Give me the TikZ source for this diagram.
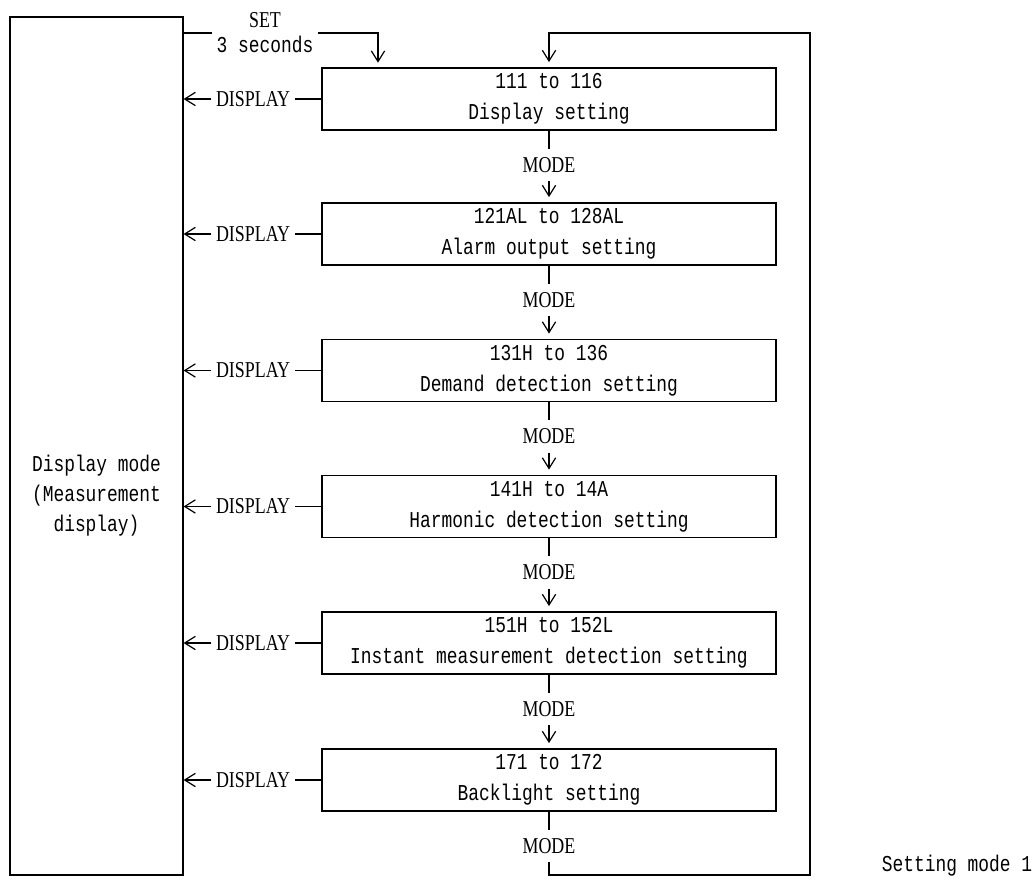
\documentclass[tikz,border=0pt]{standalone}
\usepackage{fontspec}
\setmainfont[FakeStretch=0.79]{Liberation Mono}
\newfontfamily\keyfont[FakeStretch=0.79]{Liberation Serif}
\usetikzlibrary{arrows.meta}

\tikzset{
  stepbox/.style={draw, minimum width=340.5pt, minimum height=46.5pt, align=center},
  keylbl/.style={font=\keyfont\fontsize{17}{20}\selectfont, inner xsep=3pt, inner ysep=6pt},
  flow/.style={-{Straight Barb[length=8pt,width=10pt]}},
}

\begin{document}
\begin{tikzpicture}[x=0.75pt, y=-0.75pt, line width=0.9pt, font=\fontsize{17}{20}\selectfont]
    \useasboundingbox (0,0) rectangle (1035,880);
    % left column
    \node[draw, minimum width=129.75pt, minimum height=643.5pt] (dispmode) at (96.5,446) {};
    \node[align=center] (dispmodetxt) at (96.5,496) {Display mode\\[2.5pt](Measurement\\[2.5pt]display)};
    % setting steps
    \foreach \i/\yy/\top/\bot in {1/99/111 to 116/Display setting,
                                  2/234/121AL to 128AL/Alarm output setting,
                                  3/370.5/131H to 136/Demand detection setting,
                                  4/506.5/141H to 14A/Harmonic detection setting,
                                  5/643/151H to 152L/Instant measurement detection setting,
                                  6/780/171 to 172/Backlight setting} {
        \node[stepbox] (s\i) at (549,\yy) {\top\\[3.25pt]\bot};
        \node[keylbl] (d\i) at (253,\yy) {DISPLAY};
        \node[keylbl] (m\i) at (549,\yy+66) {MODE};
        \draw (s\i.west) -- (d\i.east);
        \draw[flow] (d\i.west) -- (d\i.west -| dispmode.east);
        \draw (s\i.south) -- (m\i.north);
    }
    \foreach \i [evaluate=\i as \j using int(\i+1)] in {1,...,5}
        \draw[flow, shorten >=4pt] (m\i.south) -- (s\j.north);
    % entry from display mode
    \node[align=center, inner sep=3pt] (set) at (265,33) {{\keyfont SET}\\[-1.25pt]3 seconds};
    \coordinate (setin) at (378,68);
    \draw (set.west -| dispmode.east) -- (set.west);
    \draw[flow, shorten >=4pt] (set.east) -| (setin);
    % return loop
    \coordinate (loopbr) at (810,875);
    \coordinate (looptr) at (810,33);
    \draw[flow, shorten >=4pt] (m6.south) |- (loopbr) -- (looptr) -| (s1.north);
    \node (title) at (957,866) {Setting mode 1};
\end{tikzpicture}
\end{document}
